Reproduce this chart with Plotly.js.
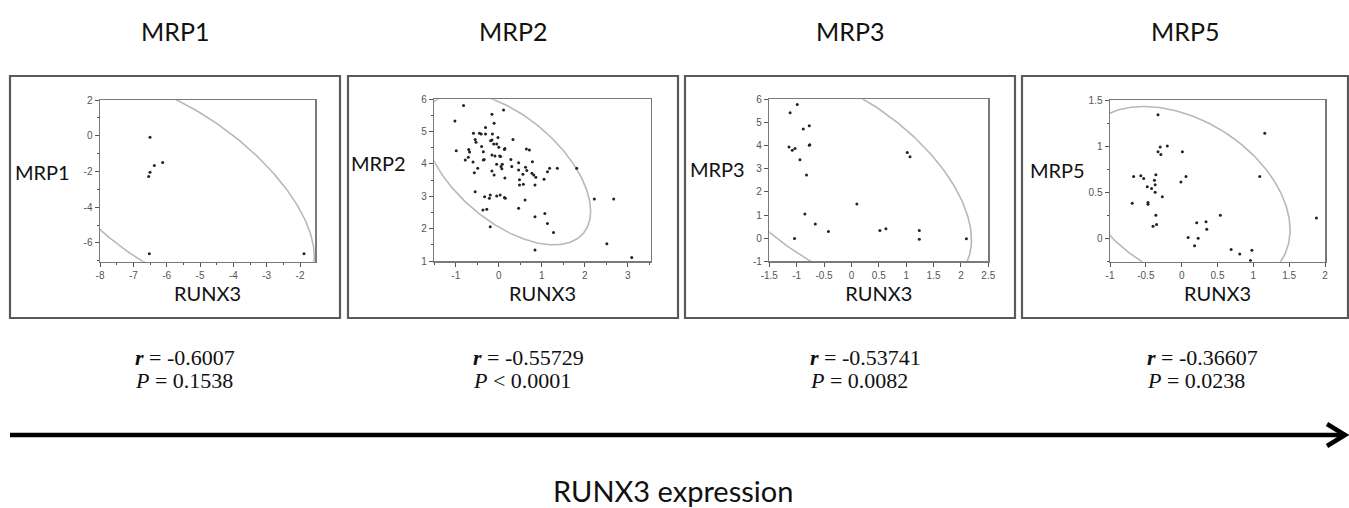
<!DOCTYPE html>
<html><head><meta charset="utf-8">
<script src="https://cdn.plot.ly/plotly-3.0.1.min.js"></script>
<style>html,body{margin:0;padding:0;background:#fff}#chart{width:1349px;height:508px}</style>
</head><body><div id="chart"></div>
<script>
// ---------- data ----------
const genes = ['MRP1', 'MRP2', 'MRP3', 'MRP5'];
const xLabel = 'RUNX3';
const bottomLabel = 'RUNX3 expression';

const mrp1X = [-6.50, -6.37, -6.12, -6.50, -6.54, -6.52, -1.88];
const mrp1Y = [-0.09, -1.66, -1.50, -2.05, -2.28, -6.60, -6.60];

const mrp2X = [-1.02,-0.82,-0.99,-0.78,-0.70,-0.68,-0.71,-0.60,-0.59,-0.55,
  -0.53,-0.49,-0.57,-0.55,-0.45,-0.41,-0.40,-0.36,-0.36,-0.34,
  -0.31,-0.31,-0.33,-0.28,-0.37,-0.22,-0.20,-0.19,-0.16,-0.16,
  -0.15,-0.12,-0.16,-0.16,-0.11,-0.09,-0.11,-0.20,-0.05,-0.05,
  -0.05,-0.02,0.00,0.02,0.04,0.03,0.05,0.07,0.08,0.11,
  0.13,0.15,0.13,0.14,0.14,0.28,0.30,0.33,0.46,0.46,
  0.48,0.48,0.46,0.56,0.57,0.62,0.65,0.61,0.64,0.71,
  0.77,0.78,0.81,0.84,0.86,0.84,0.84,1.05,1.07,1.13,
  1.18,1.13,1.27,1.36,1.81,2.22,2.67,2.51,3.09];
const mrp2Y = [5.33,5.81,4.41,4.12,4.45,4.37,4.21,4.06,4.95,4.76,
  4.67,3.87,3.73,3.14,4.95,4.93,4.54,4.38,4.12,4.14,
  5.13,4.93,2.99,2.60,2.58,2.94,3.04,4.72,4.74,5.54,
  4.93,4.62,4.28,3.78,5.26,4.25,3.66,2.06,4.62,3.99,
  3.01,4.82,4.52,4.25,4.23,3.04,3.92,3.85,3.99,5.67,
  2.96,2.94,4.45,4.48,3.57,4.14,3.92,4.76,4.04,3.81,
  3.51,3.35,2.63,3.68,3.37,3.90,3.80,2.89,4.46,4.43,
  3.71,4.07,3.66,3.35,3.59,2.37,1.34,3.53,2.47,3.76,
  3.87,2.16,1.88,3.87,3.87,2.92,2.92,1.53,1.11];

const mrp3X = [-0.99,-1.12,-1.14,-1.08,-1.03,-0.94,-0.88,-0.77,-0.77,-0.76,-0.82,-0.85,
  -0.66,-1.04,-0.42,0.10,0.52,0.63,1.02,1.07,1.24,1.24,2.10];
const mrp3Y = [5.78,5.42,3.94,3.80,3.87,3.39,4.72,4.86,4.01,4.04,2.73,1.04,
  0.61,-0.02,0.29,1.48,0.33,0.41,3.70,3.52,0.33,-0.05,-0.03];

const mrp5X = [-0.33,-0.33,-0.30,-0.29,-0.20,0.01,-0.67,-0.57,-0.53,-0.48,-0.42,-0.38,-0.37,
  -0.36,-0.37,-0.27,-0.69,-0.47,-0.47,-0.36,-0.40,-0.35,-0.01,0.06,0.54,0.21,0.34,0.35,
  0.09,0.23,0.18,0.69,0.81,0.98,0.96,1.09,1.16,1.88];
const mrp5Y = [1.34,0.94,0.99,0.91,1.00,0.94,0.67,0.68,0.65,0.56,0.54,0.63,0.58,
  0.69,0.50,0.45,0.38,0.39,0.37,0.25,0.13,0.15,0.61,0.67,0.25,0.17,0.18,0.10,
  0.01,0.00,-0.08,-0.12,-0.17,-0.13,-0.24,0.67,1.14,0.22];

const rValues = ['-0.6007', '-0.55729', '-0.53741', '-0.36607'];
const pValues = ['= 0.1538', '< 0.0001', '= 0.0082', '= 0.0238'];

// bivariate density ellipse parameters
const ellipseCenterX = [-5.78, 0.20, -0.28, 0.02];
const ellipseCenterY = [-2.97, 3.85, 2.53, 0.45];
const ellipseSdX = [1.72, 0.79, 1.01, 0.61];
const ellipseSdY = [2.58, 0.96, 1.98, 0.40];

const xTicks1 = [-8,-7,-6,-5,-4,-3,-2];
const yTicks1 = [2,0,-2,-4,-6];
const xTicks2 = [-1,0,1,2,3];
const yTicks2 = [1,2,3,4,5,6];
const xTicks3 = [-1.5,-1,-0.5,0,0.5,1,1.5,2,2.5];
const yTicks3 = [-1,0,1,2,3,4,5,6];
const xTicks5 = [-1,-0.5,0,0.5,1,1.5,2];
const yTicks5 = [0,0.5,1,1.5];

// 95% level (chi-square, 2 df)
const ellipseLevel = 5.991;

// ---------- layout helpers ----------
const W = 1349, H = 508;
const fx = p => p / W;
const fy = p => 1 - p / H;
const lbl = v => String(v);

const panels = [
  {x: mrp1X, y: mrp1Y, xt: xTicks1, yt: yTicks1, xr: [-8, -1.55], yr: [-7.05, 2],
   px: [100, 315], py: [100, 261.7], xm: 0.5, ym: 1, box: [10, 340], ylab: [72, 172]},
  {x: mrp2X, y: mrp2Y, xt: xTicks2, yt: yTicks2, xr: [-1.5, 3.53], yr: [1, 6],
   px: [434.3, 650.7], py: [99.3, 261], xm: 0.5, ym: 0.5, box: [348, 678], ylab: [408, 163]},
  {x: mrp3X, y: mrp3Y, xt: xTicks3, yt: yTicks3, xr: [-1.5, 2.5], yr: [-1, 6],
   px: [769.3, 988.3], py: [99.3, 261.3], xm: null, ym: null, box: [685, 1015], ylab: [747, 169]},
  {x: mrp5X, y: mrp5Y, xt: xTicks5, yt: yTicks5, xr: [-1, 2], yr: [-0.253, 1.5],
   px: [1110, 1325], py: [100, 261.7], xm: null, ym: 0.25, box: [1022, 1348], ylab: [1087, 170]}
];

function densityEllipse(mx, my, sx, sy, r, level) {
  const k = Math.sqrt(level);
  const ex = [], ey = [];
  for (let i = 0; i <= 360; i++) {
    const t = i * Math.PI / 180, u = Math.cos(t), v = Math.sin(t);
    ex.push(mx + k * sx * u);
    ey.push(my + k * sy * (r * u + Math.sqrt(1 - r * r) * v));
  }
  return {ex, ey};
}

const traces = [];
const layout = {
  width: W, height: H, margin: {l: 0, r: 0, t: 0, b: 0},
  paper_bgcolor: '#fff', plot_bgcolor: '#fff', showlegend: false,
  font: {family: 'Lato, "Open Sans", sans-serif', color: '#111'},
  shapes: [], annotations: []
};

const serif = '"Liberation Serif", "Times New Roman", serif';

panels.forEach((p, i) => {
  const n = i === 0 ? '' : String(i + 1);
  const xa = 'x' + n, ya = 'y' + n;
  const el = densityEllipse(ellipseCenterX[i], ellipseCenterY[i], ellipseSdX[i], ellipseSdY[i],
    parseFloat(rValues[i]), ellipseLevel);
  traces.push({x: el.ex, y: el.ey, xaxis: xa, yaxis: ya, type: 'scatter', mode: 'lines',
    line: {color: '#b8b8b8', width: 1.6}, hoverinfo: 'skip'});
  traces.push({x: p.x, y: p.y, xaxis: xa, yaxis: ya, type: 'scatter', mode: 'markers',
    marker: {color: '#222', size: 3}, cliponaxis: true});

  const common = {showgrid: false, zeroline: false, showline: true, mirror: true,
    linecolor: '#7a7a7a', linewidth: 1.5, ticks: 'outside', ticklen: 4, tickwidth: 1,
    tickcolor: '#555', tickfont: {family: '"Liberation Sans", Arial, sans-serif', size: 10, color: '#555'},
    fixedrange: true};
  const xaxis = Object.assign({}, common, {
    domain: [fx(p.px[0]), fx(p.px[1])], range: p.xr, anchor: ya,
    tickmode: 'array', tickvals: p.xt, ticktext: p.xt.map(lbl),
    title: {text: xLabel, font: {family: 'Lato, sans-serif', size: 20, color: '#111'}, standoff: 7}
  });
  if (p.xm) xaxis.minor = {tickmode: 'linear', tick0: 0, dtick: p.xm, ticks: 'outside', ticklen: 2, tickcolor: '#555'};
  const yaxis = Object.assign({}, common, {
    domain: [fy(p.py[1]), fy(p.py[0])], range: p.yr, anchor: xa,
    tickmode: 'array', tickvals: p.yt, ticktext: p.yt.map(lbl)
  });
  if (p.ym) yaxis.minor = {tickmode: 'linear', tick0: 0, dtick: p.ym, ticks: 'outside', ticklen: 2, tickcolor: '#555'};
  layout['xaxis' + n] = xaxis;
  layout['yaxis' + n] = yaxis;

  // panel frame
  layout.shapes.push({type: 'rect', xref: 'paper', yref: 'paper',
    x0: fx(p.box[0]), x1: fx(p.box[1]), y0: fy(318), y1: fy(76),
    line: {color: '#5a5a5a', width: 2.2}});

  const cx = (p.box[0] + p.box[1]) / 2;
  const sx = p.box[0] + 123;
  layout.annotations.push({xref: 'paper', yref: 'paper', x: fx(cx), y: fy(31),
    text: genes[i], showarrow: false, xanchor: 'center', yanchor: 'middle',
    font: {family: 'Lato, sans-serif', size: 25, color: '#111'}});
  layout.annotations.push({xref: 'paper', yref: 'paper', x: fx(p.ylab[0]), y: fy(p.ylab[1]),
    text: genes[i], showarrow: false, xanchor: 'right', yanchor: 'middle',
    font: {family: 'Lato, sans-serif', size: 20, color: '#111'}});
  layout.annotations.push({xref: 'paper', yref: 'paper', x: fx(sx), y: fy(357),
    text: '<b><i>r</i></b> = ' + rValues[i], showarrow: false, xanchor: 'left', yanchor: 'middle',
    font: {family: serif, size: 22, color: '#111'}});
  layout.annotations.push({xref: 'paper', yref: 'paper', x: fx(sx), y: fy(380),
    text: '<i>P</i> ' + pValues[i], showarrow: false, xanchor: 'left', yanchor: 'middle',
    font: {family: serif, size: 22, color: '#111'}});
});

// arrow
layout.shapes.push({type: 'line', xref: 'paper', yref: 'paper',
  x0: fx(10), x1: fx(1342), y0: fy(435), y1: fy(435), line: {color: '#000', width: 4.5}});
layout.shapes.push({type: 'path', xref: 'paper', yref: 'paper',
  path: 'M ' + fx(1327) + ' ' + fy(424) + ' L ' + fx(1345) + ' ' + fy(435) + ' L ' + fx(1327) + ' ' + fy(446),
  line: {color: '#000', width: 4.5}});
layout.annotations.push({xref: 'paper', yref: 'paper', x: fx(673), y: fy(490),
  text: bottomLabel, showarrow: false, xanchor: 'center', yanchor: 'middle',
  font: {family: 'Lato, sans-serif', size: 29, color: '#111'}});

Plotly.newPlot('chart', traces, layout, {displayModeBar: false, staticPlot: true});
</script></body></html>
